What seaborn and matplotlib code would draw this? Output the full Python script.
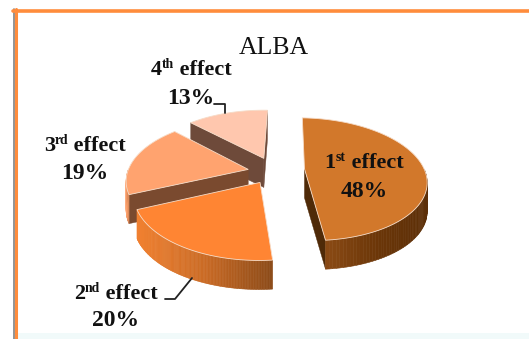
import numpy as np
import matplotlib
matplotlib.use("Agg")
import matplotlib.pyplot as plt
from matplotlib.patches import Polygon, Rectangle
import seaborn as sns

# Share of each effect
ordinals = ["1", "2", "3", "4"]
suffixes = ["st", "nd", "rd", "th"]
shares = [48, 20, 19, 13]
chart_title = "ALBA"

# Styling per wedge
top_colors = ["#D2782B", "#FF8533", "#FFA36F", "#FFC7AE"]
wall_ramps = [["#8A4A14", "#6B3608", "#5C2F08"],
              ["#F08030", "#C96A24", "#8A4A18"],
              ["#FFA36F", "#E8925F", "#C97F55"],
              ["#FFC7AE", "#E0AE98", "#C49A88"]]
face_colors = ["#4F2A08", "#8A4A18", "#7A4A2F", "#6E4A3A"]
# How far each wedge is pulled away from the pie centre, in disc radii
offsets = [(0.33, 0.02), (-0.04, -0.20), (-0.14, 0.01), (-0.01, 0.20)]

# Projection of the pie disc onto the page
START_DEG = 88.0
CX, CY = 265.0, 170.0
RX, RY = 120.0, 60.0
PERSPECTIVE = 0.17
DEPTH = 29.0

sns.set_theme(style="white")
plt.rcParams["font.family"] = ["Liberation Serif", "DejaVu Serif"]

fig = plt.figure(figsize=(5.29, 3.39), dpi=100, facecolor="white")
ax = fig.add_axes([0, 0, 1, 1])
ax.set_xlim(0, 529)
ax.set_ylim(339, 0)
ax.axis("off")

# Panel frame
ax.add_patch(Rectangle((15, 11), 514, 322, fc="white", ec="none", zorder=0))
ax.add_patch(Rectangle((15, 333), 514, 6, fc="#F1FAFA", ec="none", zorder=0))
ax.plot([13.5, 13.5], [9, 339], color="#808080", lw=1.2, zorder=1)
ax.plot([15.8, 15.8], [9, 339], color="#FF8C3C", lw=2.2, zorder=1)
ax.plot([13, 529], [10.5, 10.5], color="#FF8C3C", lw=2.6, zorder=1)


def project(u, v):
    s = 1.0 / (1.0 + PERSPECTIVE * v)
    return CX + RX * u * s, CY - RY * v * s


def draw_wedge(a0, a1, offset, top, ramp, face, z):
    ox, oy = offset
    theta = np.radians(np.linspace(a0, a1, 120))
    rx, ry = project(ox + np.cos(theta), oy + np.sin(theta))
    px, py = project(ox, oy)

    # Radial cut faces that turn towards the viewer
    for i, normal in ((0, a0 + 90), (-1, a1 - 90)):
        if np.sin(np.radians(normal)) < 0:
            ax.add_patch(Polygon([(px, py), (rx[i], ry[i]), (rx[i], ry[i] + DEPTH),
                                  (px, py + DEPTH)], fc=face, ec=face, lw=0.3, zorder=z))
    # Front part of the curved wall, shaded from left to right across the wedge
    shades = sns.blend_palette(ramp, n_colors=64)
    front = np.sin(theta) < 0
    if front.any():
        lo, hi = rx[front].min(), rx[front].max()
        for k in range(len(rx) - 1):
            if front[k] and front[k + 1]:
                frac = ((rx[k] + rx[k + 1]) / 2 - lo) / max(hi - lo, 1e-6)
                c = shades[int(frac * 63)]
                ax.add_patch(Polygon([(rx[k], ry[k]), (rx[k + 1], ry[k + 1]),
                                      (rx[k + 1], ry[k + 1] + DEPTH), (rx[k], ry[k] + DEPTH)],
                                     fc=c, ec=c, lw=0.4, zorder=z + 0.1))
    # Top surface
    ax.add_patch(Polygon(np.column_stack([np.r_[px, rx], np.r_[py, ry]]),
                         fc=top, ec="#F6DCC8", lw=0.6, zorder=z + 0.2))


# Wedges run clockwise; the far ones are painted first
edges = START_DEG - np.cumsum([0] + [s / sum(shares) * 360 for s in shares])
for i in (3, 2, 1, 0):
    draw_wedge(edges[i], edges[i + 1], offsets[i], top_colors[i], wall_ramps[i],
               face_colors[i], 2 + (3 - i))


def label(cx, y, gap, idx, size=16):
    """Two-line bold label with a raised ordinal suffix, centred on cx."""
    r = fig.canvas.get_renderer()
    common = dict(fontweight="bold", color="#111111", zorder=10, va="baseline")
    parts = [(ordinals[idx], size, 0), (suffixes[idx], size * 0.62, -7), (" effect", size, 0)]
    texts = [ax.text(0, y + dy, t, fontsize=fs, **common) for t, fs, dy in parts]
    widths = [t.get_window_extent(r).width for t in texts]
    x = cx - sum(widths) / 2
    for t, w in zip(texts, widths):
        t.set_x(x)
        x += w
    ax.text(cx, y + gap, f"{shares[idx]}%", fontsize=size + 1, ha="center", **common)


ax.text(274, 54, chart_title, fontsize=18.5, ha="center", va="baseline",
        color="#111111", zorder=10)
label(364, 168, 29, 0)
label(116, 299, 27, 1)
label(85, 151, 28, 2)
label(191, 75, 29, 3)

# Leader lines for the outer labels
ax.plot([214, 225, 225], [104, 104, 113], color="#222222", lw=1.3, zorder=9)
ax.plot([165, 175, 192], [299, 299, 278], color="#222222", lw=1.3, zorder=9)

fig.savefig("out.png", dpi=100)
